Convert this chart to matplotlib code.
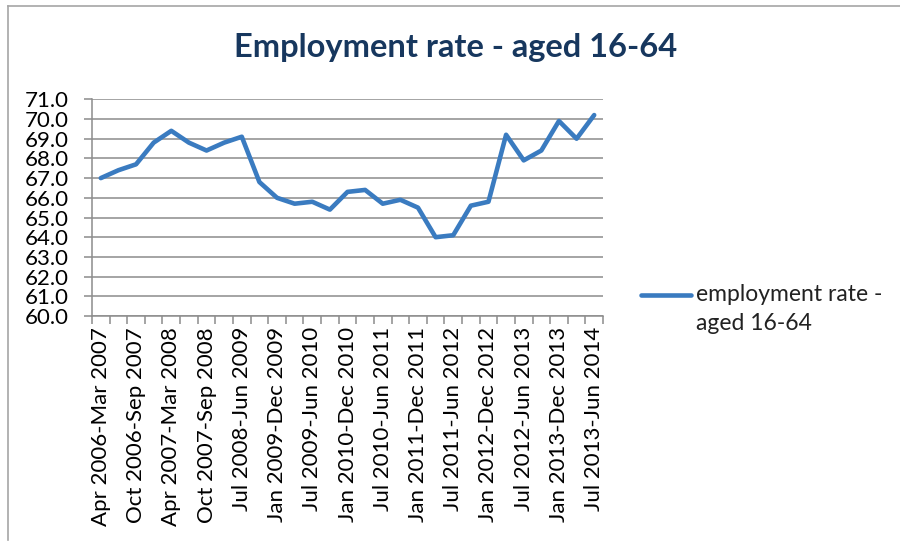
import matplotlib.pyplot as plt
from matplotlib.lines import Line2D
from matplotlib.ticker import FixedLocator, FormatStrFormatter

# quarterly rolling-year periods (only every other one is labelled on the axis)
periods = [
    "Apr 2006-Mar 2007", "Jul 2006-Jun 2007", "Oct 2006-Sep 2007", "Jan 2007-Dec 2007",
    "Apr 2007-Mar 2008", "Jul 2007-Jun 2008", "Oct 2007-Sep 2008", "Jan 2008-Dec 2008",
    "Jul 2008-Jun 2009", "Oct 2008-Sep 2009", "Jan 2009-Dec 2009", "Apr 2009-Mar 2010",
    "Jul 2009-Jun 2010", "Oct 2009-Sep 2010", "Jan 2010-Dec 2010", "Apr 2010-Mar 2011",
    "Jul 2010-Jun 2011", "Oct 2010-Sep 2011", "Jan 2011-Dec 2011", "Apr 2011-Mar 2012",
    "Jul 2011-Jun 2012", "Oct 2011-Sep 2012", "Jan 2012-Dec 2012", "Apr 2012-Mar 2013",
    "Jul 2012-Jun 2013", "Oct 2012-Sep 2013", "Jan 2013-Dec 2013", "Apr 2013-Mar 2014",
    "Jul 2013-Jun 2014",
]
rate = [
    67.0, 67.4, 67.7, 68.8, 69.4, 68.8, 68.4, 68.8, 69.1, 66.8,
    66.0, 65.7, 65.8, 65.4, 66.3, 66.4, 65.7, 65.9, 65.5, 64.0,
    64.1, 65.6, 65.8, 69.2, 67.9, 68.4, 69.9, 69.0, 70.2,
]
series_name = "employment rate -\naged 16-64"
title = "Employment rate - aged 16-64"

plt.rcParams['font.family'] = ['Lato', 'DejaVu Sans']

fig = plt.figure(figsize=(9, 5.43), dpi=100)

# chart area frame: only the top and left edges show in the crop
frame_kw = dict(transform=fig.transFigure, color="#a6a6a6", linewidth=1.2)
fig.lines.append(Line2D([8 / 900, 1], [1 - 6 / 543, 1 - 6 / 543], **frame_kw))
fig.lines.append(Line2D([8 / 900, 8 / 900], [1 - 6 / 543, 1 - 540 / 543], **frame_kw))

ax = fig.add_axes([92 / 900, 1 - 316 / 543, 511 / 900, (316 - 99.3) / 543])

x = list(range(len(rate)))
line, = ax.plot(x, rate, color="#3a7bc0", linewidth=3.3,
                solid_joinstyle="round", solid_capstyle="round",
                label=series_name, zorder=3)

ax.set_xlim(-0.5, len(rate) - 0.5)
ax.set_ylim(60, 71)
ax.set_yticks([60 + i for i in range(12)])
ax.yaxis.set_major_formatter(FormatStrFormatter("%.1f"))
ax.grid(axis="y", color="#8c8c8c", linewidth=1.1)
ax.set_axisbelow(True)

# labels on every other category, tick marks at category boundaries
ax.set_xticks(x[::2])
ax.set_xticklabels(periods[::2], rotation=90, fontsize=16)
ax.xaxis.set_minor_locator(FixedLocator([i - 0.5 for i in range(len(rate) + 1)]))
ax.tick_params(axis="x", which="major", length=0, pad=8)
ax.tick_params(axis="x", which="minor", length=6, color="#8c8c8c", width=1.1)
ax.tick_params(axis="y", length=6, color="#8c8c8c", width=1.1, labelsize=16, pad=11)

for side in ["top", "right"]:
    ax.spines[side].set_visible(False)
for side in ["left", "bottom"]:
    ax.spines[side].set_color("#8c8c8c")
    ax.spines[side].set_linewidth(1.1)

fig.text(456 / 900, 1 - 47 / 543, title, ha="center", va="center",
         fontsize=23.5, fontweight="bold", color="#17375e")

# legend drawn by hand so the key and the wrapped label sit where Excel put them
fig.lines.append(Line2D([641 / 900, 691 / 900], [1 - 295 / 543, 1 - 295 / 543],
                        transform=fig.transFigure, color=line.get_color(),
                        linewidth=3.3, solid_capstyle="round"))
fig.text(696 / 900, 1 - 284 / 543, series_name, ha="left", va="top",
         fontsize=16.5, color="#222222", linespacing=1.5)

fig.savefig("out.png", dpi=100)
